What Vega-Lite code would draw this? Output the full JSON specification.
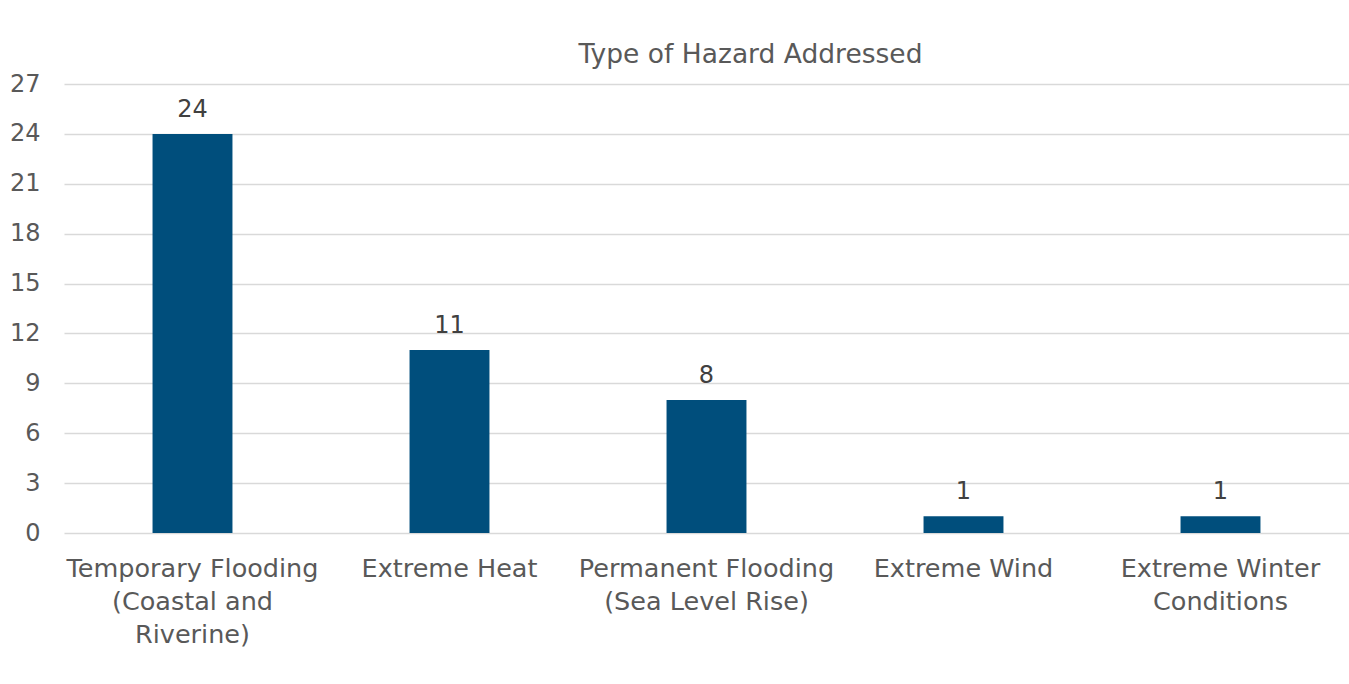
{
  "$schema": "https://vega.github.io/schema/vega-lite/v6.json",
  "autosize": "none",
  "width": 1285,
  "height": 449,
  "padding": {"left": 64, "top": 84, "right": 0, "bottom": 151},
  "background": "white",
  "title": {
    "text": "Type of Hazard Addressed",
    "font": "DejaVu Sans",
    "fontSize": 26.5,
    "fontWeight": "normal",
    "color": "#595959",
    "anchor": "middle",
    "dx": 44,
    "offset": 4
  },
  "data": {
    "values": [
      {"hazard": "Temporary Flooding (Coastal and Riverine)", "count": 24},
      {"hazard": "Extreme Heat", "count": 11},
      {"hazard": "Permanent Flooding (Sea Level Rise)", "count": 8},
      {"hazard": "Extreme Wind", "count": 1},
      {"hazard": "Extreme Winter Conditions", "count": 1}
    ]
  },
  "encoding": {
    "x": {
      "field": "hazard",
      "type": "nominal",
      "sort": null,
      "scale": {"paddingInner": 0.689, "paddingOuter": 0.3445},
      "axis": {
        "title": null,
        "labelAngle": 0,
        "labelFont": "DejaVu Sans",
        "labelFontSize": 25.5,
        "labelColor": "#595959",
        "labelLineHeight": 33,
        "labelPadding": 23,
        "labelLimit": 0,
        "ticks": false,
        "domain": false,
        "labelExpr": "datum.value == 'Temporary Flooding (Coastal and Riverine)' ? ['Temporary Flooding', '(Coastal and', 'Riverine)'] : datum.value == 'Permanent Flooding (Sea Level Rise)' ? ['Permanent Flooding', '(Sea Level Rise)'] : datum.value == 'Extreme Winter Conditions' ? ['Extreme Winter', 'Conditions'] : datum.value"
      }
    },
    "y": {
      "field": "count",
      "type": "quantitative",
      "scale": {"domain": [0, 27], "nice": false},
      "axis": {
        "title": null,
        "values": [0, 3, 6, 9, 12, 15, 18, 21, 24, 27],
        "labelFont": "DejaVu Sans",
        "labelFontSize": 24,
        "labelColor": "#595959",
        "labelPadding": 24,
        "ticks": false,
        "domain": false,
        "grid": true,
        "gridColor": "#d9d9d9",
        "gridWidth": 1.5
      }
    }
  },
  "layer": [
    {"mark": {"type": "bar", "color": "#004e7c"}},
    {
      "mark": {
        "type": "text",
        "font": "DejaVu Sans",
        "fontSize": 24,
        "color": "#404040",
        "baseline": "alphabetic",
        "dy": -17
      },
      "encoding": {"text": {"field": "count", "type": "quantitative"}}
    }
  ],
  "config": {"view": {"stroke": null}}
}
